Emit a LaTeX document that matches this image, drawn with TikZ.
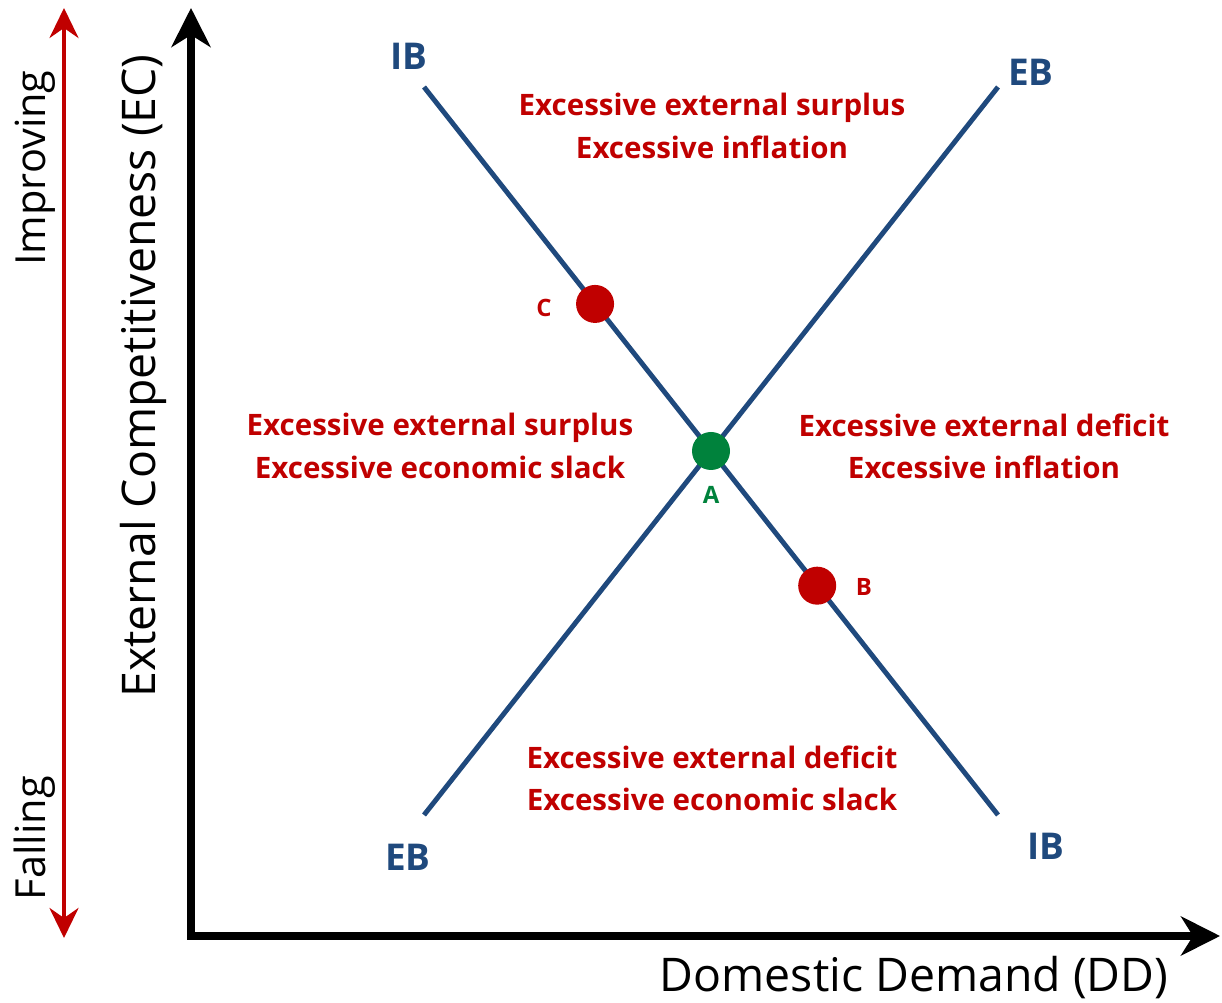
\documentclass[tikz,border=0pt]{standalone}
\usepackage{fontspec}
\setmainfont{Open Sans}
\usetikzlibrary{arrows.meta,calc}
\definecolor{lineBlue}{RGB}{31,73,125}
\definecolor{darkRed}{RGB}{192,0,0}
\definecolor{darkGreen}{RGB}{0,130,60}
\tikzset{
    >=Stealth,
    dot/.style={circle,inner sep=0pt,minimum size=3.8mm},
    curve/.style={line width=1.4pt,color=lineBlue},
    region/.style={align=center,font=\bfseries\fontsize{8.4}{12}\selectfont,text=darkRed},
    curvename/.style={font=\bfseries\fontsize{10.5}{13}\selectfont,text=lineBlue},
    ptname/.style={font=\bfseries\fontsize{6.8}{8}\selectfont},
    axisname/.style={font=\fontsize{13.2}{16}\selectfont},
    trendname/.style={rotate=90,font=\fontsize{11.8}{14}\selectfont},
    axis/.style={line width=2pt,{Stealth[length=3.9mm,width=3.9mm,inset=1.2mm]}-{Stealth[length=3.9mm,width=3.9mm,inset=1.2mm]}},
    trend/.style={line width=1.15pt,color=darkRed,{Stealth[length=3mm,width=2.9mm,inset=1mm]}-{Stealth[length=3mm,width=2.9mm,inset=1mm]}}
}

\begin{document}
\begin{tikzpicture}
    \useasboundingbox (0,0) rectangle (12.22,10.02);

    % axes
    \coordinate (ytip) at (1.91,9.94);
    \coordinate (origin) at (1.91,0.66);
    \coordinate (xtip) at (12.20,0.66);
    \draw[axis] (ytip) -- (origin) -- (xtip);
    \node[axisname] (xlabel) at (9.14,0.24) {Domestic Demand (DD)};
    \node[axisname,rotate=90] (ylabel) at (1.43,6.26) {External Competitiveness (EC)};

    % improving / falling scale
    \coordinate (up) at (0.64,9.94);
    \coordinate (down) at (0.64,0.64);
    \draw[trend] (down) -- (up);
    \node[trendname] (improving) at (0.35,8.34) {Improving};
    \node[trendname] (falling) at (0.35,1.64) {Falling};

    % internal and external balance lines
    \coordinate (IBtop) at (4.24,9.15);
    \coordinate (IBbot) at (9.98,1.87);
    \coordinate (EBbot) at (4.24,1.87);
    \coordinate (EBtop) at (9.98,9.15);
    \draw[curve] (IBtop) -- (IBbot);
    \draw[curve] (EBbot) -- (EBtop);
    \node[curvename] (IBa) at (4.09,9.46) {IB};
    \node[curvename] (IBb) at (10.46,1.56) {IB};
    \node[curvename] (EBa) at (10.31,9.30) {EB};
    \node[curvename] (EBb) at (4.08,1.45) {EB};

    % points on IB
    \node[dot,fill=darkGreen] (A) at (intersection of IBtop--IBbot and EBbot--EBtop) {};
    \node[dot,fill=darkRed] (C) at ($(IBtop)!0.298!(IBbot)$) {};
    \node[dot,fill=darkRed] (B) at ($(IBtop)!0.685!(IBbot)$) {};
    \node[ptname,text=darkGreen,below=0.03cm] (Alabel) at (A.south) {A};
    \node[ptname,text=darkRed] (Clabel) at (5.44,6.94) {C};
    \node[ptname,text=darkRed] (Blabel) at (8.64,4.15) {B};

    % regions
    \node[region] (north) at (7.12,8.76) {Excessive external surplus\\Excessive inflation};
    \node[region] (west) at (4.40,5.56) {Excessive external surplus\\Excessive economic slack};
    \node[region] (east) at (9.84,5.56) {Excessive external deficit\\Excessive inflation};
    \node[region] (south) at (7.12,2.24) {Excessive external deficit\\Excessive economic slack};
\end{tikzpicture}
\end{document}
